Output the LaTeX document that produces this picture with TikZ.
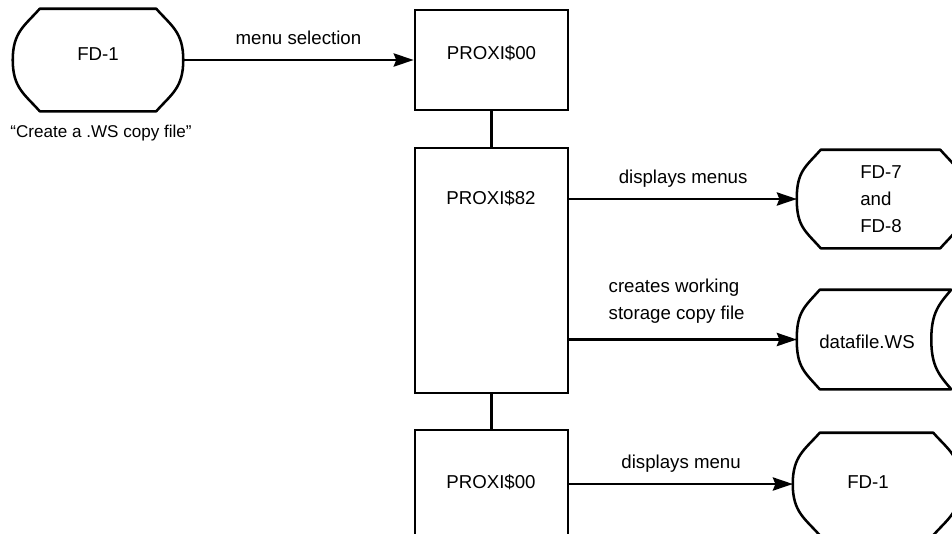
\documentclass[tikz,border=0pt]{standalone}
\usepackage{fontspec}
\setmainfont{Liberation Sans}
\usetikzlibrary{arrows.meta,calc,fit}

\tikzset{
  every node/.style={font=\fontsize{14}{20}\selectfont},
  boxline/.style={draw, line width=2.1pt, inner sep=0pt},
  frame/.style={inner sep=0pt},
  outline/.style={line width=1.9pt, line join=round},
  link/.style={line width=1.6pt},
  arr/.style={link, -{Stealth[length=15pt,width=10pt,inset=2pt]}},
  lbl/.style={midway, anchor=base, yshift=12pt, inner sep=0pt},
}

% terminal-like outline: flat top and bottom, bulging left and right sides
\newcommand\termoutline[2]{%
  \draw[outline] ($(#1.north west)+(#2,0)$) -- ($(#1.north east)+(-#2,0)$)
    .. controls +(15,17) and +(0,-28) .. (#1.east)
    .. controls +(0,28) and +(15,-17) .. ($(#1.south east)+(-#2,0)$)
    -- ($(#1.south west)+(#2,0)$)
    .. controls +(-15,-17) and +(0,28) .. (#1.west)
    .. controls +(0,-28) and +(-15,17) .. ($(#1.north west)+(#2,0)$) -- cycle;}

\begin{document}
\begin{tikzpicture}[x=0.75pt, y=-0.75pt]
  \useasboundingbox (0,0) rectangle (952,533);
  \clip (0,0) rectangle (952,533);

  % left terminal and its caption
  \node[frame, fit={(13,9) (183,111)}] (fd1a) {FD-1};
  \termoutline{fd1a}{27}
  \node[font=\fontsize{12.8}{16}\selectfont] (cap) at (101,133)
    {\textquotedblleft Create a .WS copy file\textquotedblright};

  % program boxes
  \node[boxline, fit={(415,10) (568,110)}] (p1) {PROXI\$00};
  \node[boxline, fit={(415,148) (568,393)}] (p2) {};
  \node (p2t) at (491,198) {PROXI\$82};
  \node[boxline, fit={(415,430) (568,548)}] (p3) {};
  \node (p3t) at (491,482) {PROXI\$00};

  % right-hand terminals
  \node[frame, fit={(797,150) (964,248)}] (fd7) {};
  \node[align=left] (fd7t) at (881,199) {FD-7\\and\\FD-8};
  \termoutline{fd7}{24}

  \node[frame, fit={(797,290) (951,389)}] (df) {};
  \node (dft) at (867,342) {datafile.WS};
  \draw[outline] ($(df.north west)+(23,0)$) -- (df.north east)
    .. controls +(-12,14) and +(0,-27) .. ($(df.east)+(-20,0)$)
    .. controls +(0,27) and +(-12,-14) .. (df.south east)
    -- ($(df.south west)+(23,0)$)
    .. controls +(-15,-17) and +(0,28) .. (df.west)
    .. controls +(0,-28) and +(-15,17) .. ($(df.north west)+(23,0)$) -- cycle;

  \node[frame, fit={(793,433) (960,535)}] (fd1b) {};
  \node (fd1bt) at (868,482) {FD-1};
  \termoutline{fd1b}{27}

  % connectors
  \draw[arr] (fd1a.east) -- node[lbl] {menu selection} (p1.west);
  \draw[link] (p1.south) -- (p2.north);
  \draw[link] (p2.south) -- (p3.north);
  \draw[arr] (p2.east |- fd7.west) -- node[lbl] {displays menus} (fd7.west);
  \draw[arr] (p2.east |- df.west) -- (df.west);
  \node[align=left, anchor=south west, inner sep=0pt] (dflbl)
    at ($(p2.east |- df.west)+(39,-16)$) {creates working\\storage copy file};
  \draw[arr] (p3.east |- fd1b.west) -- node[lbl] {displays menu} (fd1b.west);
\end{tikzpicture}
\end{document}
